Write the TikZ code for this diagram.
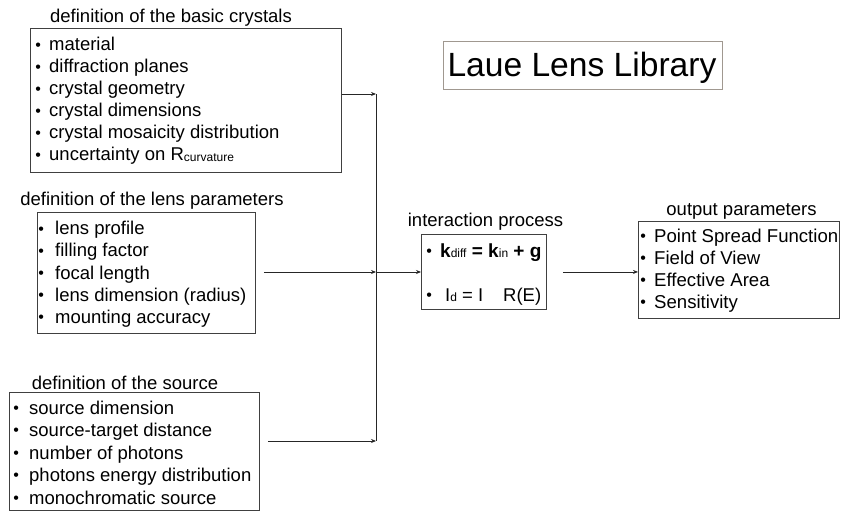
\documentclass[tikz,border=0pt]{standalone}
\usepackage{fontspec}
\setmainfont{Liberation Sans}
\usetikzlibrary{arrows.meta,calc}
\tikzset{
  box/.style={draw=black!75, line width=0.9pt, anchor=north west, inner sep=0pt},
  ttl/.style={anchor=base, inner sep=0pt, font=\fontsize{18.5}{22}\selectfont},
  itm/.style={anchor=base west, inner sep=0pt, font=\fontsize{18.5}{22}\selectfont},
  arr/.style={draw=black!85, line width=0.8pt, -{Stealth[length=5pt,width=4pt]}},
  ln/.style={draw=black!85, line width=0.8pt},
  libbox/.style={draw={rgb,255:red,160;green,152;blue,144}, line width=1pt, anchor=north west, inner sep=0pt},
}
\newcommand\bl[1]{\makebox[#1][l]{\hspace{1.2pt}\raisebox{0.6pt}{\fontsize{16}{16}\selectfont •}}}
\newcommand\sbs[1]{{\fontsize{12}{12}\selectfont\mdseries #1}}
\begin{document}
\begin{tikzpicture}[x=1pt,y=-1pt]
\useasboundingbox (0,0) rectangle (846,513);
% title
\node[libbox, minimum width=279pt, minimum height=48pt] (lib) at (443,41) {};
\node[anchor=base, inner sep=0pt, font=\fontsize{33.6}{40}\selectfont] (libt) at (582,76.5) {Laue Lens Library};
% box 1
\node[ttl] (t1) at (171,23) {definition of the basic crystals};
\node[box, minimum width=311pt, minimum height=144pt] (b1) at (30,28) {};
\foreach \t [count=\i] in {material, diffraction planes, crystal geometry, crystal dimensions, crystal mosaicity distribution, {uncertainty on R\raisebox{-0.5pt}{\sbs{curvature}}}}
  \node[itm] (c\i) at (34,{51+22*(\i-1)}) {\bl{15pt}\t};
% box 2
\node[ttl] (t2) at (152,206) {definition of the lens parameters};
\node[box, minimum width=218pt, minimum height=121pt] (b2) at (37,212) {};
\foreach \t [count=\i] in {lens profile, filling factor, focal length, lens dimension (radius), mounting accuracy}
  \node[itm] (l\i) at (37,{235+22*(\i-1)}) {\bl{18pt}\t};
% box 3
\node[ttl] (t3) at (125,389) {definition of the source};
\node[box, minimum width=250pt, minimum height=118pt] (b3) at (9,392) {};
\foreach \t [count=\i] in {source dimension, source-target distance, number of photons, photons energy distribution, monochromatic source}
  \node[itm] (s\i) at (12,{414+22.5*(\i-1)}) {\bl{17pt}\t};
% interaction
\node[ttl] (t4) at (485.5,226) {interaction process};
\node[box, minimum width=125pt, minimum height=75pt] (int) at (421,234) {};
\node[itm, font=\fontsize{19}{22}\selectfont] (k1) at (425,257.5) {\bl{15pt}\textbf{k}\sbs{diff} \textbf{= k}\sbs{in} \textbf{+ g}};
\node[itm] (k2) at (425,301) {\bl{20pt}I\sbs{d} = I\hspace{20pt}R(E)};
% output
\node[ttl] (t5) at (741.5,215) {output parameters};
\node[box, minimum width=201pt, minimum height=97pt] (out) at (638,221) {};
\foreach \t [count=\i] in {Point Spread Function, Field of View, Effective Area, Sensitivity}
  \node[itm, font=\fontsize{18.6}{22}\selectfont] (o\i) at (639,{242.5+22*(\i-1)}) {\bl{15pt}\t};
% connectors
\coordinate (jt) at (376,94);
\coordinate (jm) at (376,272);
\coordinate (jb) at (376,441);
\draw[ln] (jt) -- (jb);
\draw[arr] (b1.east |- jt) -- (jt);
\draw[arr] ($(b2.east |- jm)+(8,0)$) -- (jm);
\draw[arr] ($(b3.east |- jb)+(8,0)$) -- (jb);
\draw[arr] (jm) -- (jm -| int.west);
\draw[arr] ($(int.east)+(16,0)$) -- (int.east -| out.west);
\end{tikzpicture}
\end{document}
